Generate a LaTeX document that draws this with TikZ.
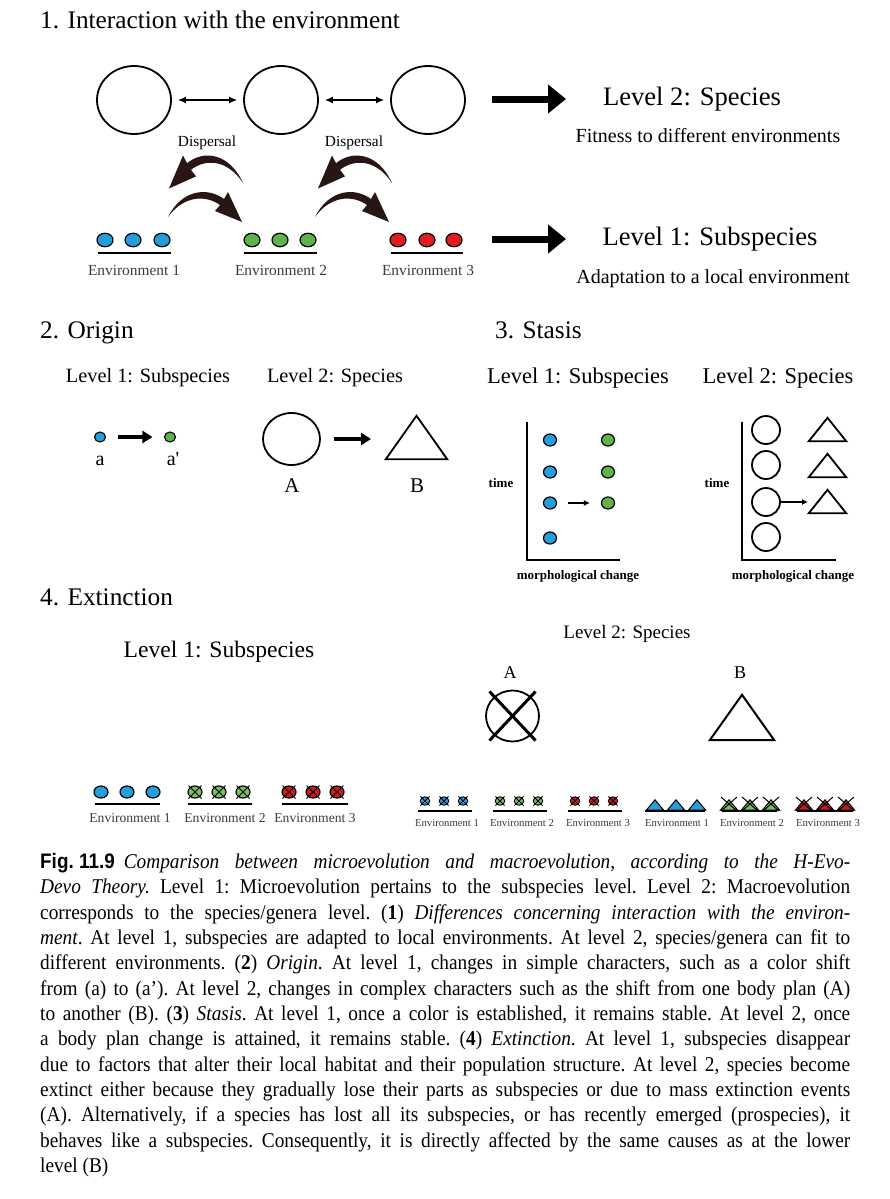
\documentclass[tikz,border=0pt]{standalone}
\usepackage{fontspec}
\setmainfont{Liberation Serif}
\newfontfamily\capfont{Liberation Serif}[FakeStretch=0.92]
\newfontfamily\figfont{Liberation Sans}[FakeStretch=0.9]
\usetikzlibrary{arrows.meta,shapes.geometric}
\definecolor{dblue}{RGB}{38,158,218}
\definecolor{dgreen}{RGB}{96,178,74}
\definecolor{dred}{RGB}{226,30,36}
\definecolor{brushcol}{RGB}{40,22,20}
\definecolor{envgray}{RGB}{60,60,60}
\newcommand{\fs}[1]{\fontsize{#1}{#1}\selectfont}
\newcommand{\xover}[2]{\draw[xline] ([shift={(-#2,-#2)}]#1.center) -- ([shift={(#2,#2)}]#1.center) ([shift={(-#2,#2)}]#1.center) -- ([shift={(#2,-#2)}]#1.center);}
\tikzset{
  bigc/.style={draw, ellipse, line width=1.8pt, minimum width=74pt, minimum height=68pt, inner sep=0pt},
  dotA/.style={draw, ellipse, line width=1.2pt, fill=#1, minimum width=16pt, minimum height=13.5pt, inner sep=0pt},
  dotB/.style={draw, ellipse, line width=1.1pt, fill=#1, minimum width=11pt, minimum height=10pt, inner sep=0pt},
  dotC/.style={draw, ellipse, line width=1.2pt, fill=#1, minimum width=13pt, minimum height=12pt, inner sep=0pt},
  dotD/.style={draw, ellipse, line width=1.2pt, fill=#1, minimum width=14pt, minimum height=12pt, inner sep=0pt},
  dotE/.style={draw, ellipse, line width=0.9pt, fill=#1, minimum width=9.5pt, minimum height=8.5pt, inner sep=0pt},
  xline/.style={line width=1pt},
  envline/.style={line width=1.8pt},
  envlab/.style={anchor=base, text=envgray, inner sep=0pt},
  lab/.style={anchor=base, inner sep=0pt},
  title/.style={anchor=base west, inner sep=0pt, font=\fs{25.3}},
  dbl/.style={line width=1.3pt, {Latex[length=8pt,width=7pt]}-{Latex[length=8pt,width=7pt]}, shorten <=6pt, shorten >=6pt},
  fat/.style={line width=7pt, -{Triangle[length=18pt,width=28pt]}},
  mid/.style={line width=3.3pt, -{Triangle[length=10pt,width=12pt]}},
  thin/.style={line width=1.5pt, -{Latex[length=6pt,width=6pt]}},
  brusharrow/.pic={\fill[brushcol] (0,0) .. controls (14,-28) and (40,-30) .. (56,-18) -- (60,-25) -- (74,5) -- (47,-6) -- (52,-12) .. controls (38,-22) and (16,-22) .. (0,0) -- cycle;}
}
\begin{document}
\begin{tikzpicture}[x=1pt,y=-1pt]
\useasboundingbox (0,0) rectangle (890,1199);
\fill[white] (0,0) rectangle (890,1199);

% ---------------- Section 1
\node[title] (t1) at (40,29) {1. Interaction with the environment};
\node[bigc] (s1) at (134,100) {};
\node[bigc] (s2) at (281,100) {};
\node[bigc] (s3) at (428,100) {};
\draw[dbl] (s1) -- (s2);
\draw[dbl] (s2) -- (s3);
\node[lab, font=\fs{15.4}] (d1) at (207,146) {Dispersal};
\node[lab, font=\fs{15.4}] (d2) at (354,146) {Dispersal};
\pic at (168,217) {brusharrow};
\pic at (315,217) {brusharrow};
\pic[xscale=-1, yscale=1.1] at (243,183) {brusharrow};
\pic[xscale=-1, yscale=1.1] at (392,183) {brusharrow};
\node[dotA=dblue] (e1a) at (105,240) {};
\node[dotA=dblue] (e1b) at (133,240) {};
\node[dotA=dblue] (e1c) at (162,240) {};
\node[dotA=dgreen] (e2a) at (252,240) {};
\node[dotA=dgreen] (e2b) at (280,240) {};
\node[dotA=dgreen] (e2c) at (308,240) {};
\node[dotA=dred] (e3a) at (398,240) {};
\node[dotA=dred] (e3b) at (427,240) {};
\node[dotA=dred] (e3c) at (454,240) {};
\draw[envline] (98,253) -- (171,253);
\draw[envline] (244,253) -- (317,253);
\draw[envline] (391,253) -- (463,253);
\node[envlab, font=\fs{15.4}] (l1) at (134,275) {Environment 1};
\node[envlab, font=\fs{15.4}] (l2) at (281,275) {Environment 2};
\node[envlab, font=\fs{15.4}] (l3) at (428,275) {Environment 3};
\coordinate (f1s) at (492,99); \coordinate (f1e) at (566,99);
\coordinate (f2s) at (492,239); \coordinate (f2e) at (566,239);
\draw[fat] (f1s) -- (f1e);
\draw[fat] (f2s) -- (f2e);
\node[lab, font=\fs{26.6}] (lv2) at (692,105) {Level 2: Species};
\node[lab, font=\fs{20}] (fit) at (708,142) {Fitness to different environments};
\node[lab, font=\fs{26.6}] (lv1) at (710,245) {Level 1: Subspecies};
\node[lab, font=\fs{20}] (ada) at (713,283) {Adaptation to a local environment};

% ---------------- Section 2
\node[title] (t2) at (40,338) {2. Origin};
\node[lab, font=\fs{20.3}] (o1) at (148,382) {Level 1: Subspecies};
\node[lab, font=\fs{20.3}] (o2) at (335,382) {Level 2: Species};
\node[dotB=dblue] (oa) at (100,437) {};
\node[dotB=dgreen] (ob) at (170,437) {};
\draw[mid, shorten <=11.5pt, shorten >=11.5pt] (oa) -- (ob);
\node[lab, font=\fs{20}] (la) at (100,465) {a};
\node[lab, font=\fs{20}] (lb) at (173,465) {a\textquotesingle};
\node[draw, ellipse, line width=1.8pt, minimum width=57pt, minimum height=52pt, inner sep=0pt] (oA) at (291.5,439) {};
\node[inner sep=0pt, minimum width=61pt, minimum height=43pt] (oB) at (416.5,437.5) {};
\draw[line width=1.8pt, line join=miter] (oB.south west) -- (oB.north) -- (oB.south east) -- cycle;
\coordinate (oAB) at (371,439);
\draw[mid, shorten <=13pt] (oA.east) -- (oAB);
\node[lab, font=\fs{21}] (lA) at (292,492) {A};
\node[lab, font=\fs{21}] (lB) at (417,492) {B};

% ---------------- Section 3
\node[title] (t3) at (495,338) {3. Stasis};
\node[lab, font=\fs{22.5}] (p1) at (578,383) {Level 1: Subspecies};
\node[lab, font=\fs{22.5}] (p2) at (778,383) {Level 2: Species};
\draw[line width=2pt] (527,422) -- (527,560) -- (620,560);
\draw[line width=2pt] (742,422) -- (742,560) -- (836,560);
\node[lab, font=\bfseries\fs{13}] (tm1) at (501,487) {time};
\node[lab, font=\bfseries\fs{13}] (tm2) at (717,487) {time};
\node[lab, font=\bfseries\fs{13}] (mc1) at (578,579) {morphological change};
\node[lab, font=\bfseries\fs{13}] (mc2) at (793,579) {morphological change};
\node[dotC=dblue] (b1) at (550,440) {};
\node[dotC=dblue] (b2) at (550,472) {};
\node[dotC=dblue] (b3) at (550,503) {};
\node[dotC=dblue] (b4) at (550,538) {};
\node[dotC=dgreen] (g1) at (608,440) {};
\node[dotC=dgreen] (g2) at (608,472) {};
\node[dotC=dgreen] (g3) at (608,503) {};
\draw[thin, shorten <=11pt, shorten >=11pt] (b3) -- (g3);
\node[draw, circle, line width=1.8pt, minimum size=28pt, inner sep=0pt] (c1) at (766,430) {};
\node[draw, circle, line width=1.8pt, minimum size=28pt, inner sep=0pt] (c2) at (766,465) {};
\node[draw, circle, line width=1.8pt, minimum size=28pt, inner sep=0pt] (c3) at (766,502) {};
\node[draw, circle, line width=1.8pt, minimum size=28pt, inner sep=0pt] (c4) at (766,537) {};
\foreach \n/\yy in {tr1/429.5, tr2/465.5, tr3/501.5} {
  \node[inner sep=0pt, minimum width=37pt, minimum height=23pt] (\n) at (827.5,\yy) {};
  \draw[line width=1.8pt] (\n.south west) -- (\n.north) -- (\n.south east) -- cycle;
}
\coordinate (c3t) at (808,502);
\draw[thin] (c3.east) -- (c3t);

% ---------------- Section 4
\node[title] (t4) at (40,605) {4. Extinction};
\node[lab, font=\fs{23.6}] (x1) at (219,657) {Level 1: Subspecies};
\node[dotD=dblue] (q1) at (101,792) {};
\node[dotD=dblue] (q2) at (127,792) {};
\node[dotD=dblue] (q3) at (153,792) {};
\foreach \n/\xx in {q4/195, q5/219, q6/243} {
  \node[dotD=dgreen!85!white] (\n) at (\xx,792) {};
  \xover{\n}{6.5}
}
\foreach \n/\xx in {q7/289, q8/313, q9/337} {
  \node[dotD=dred!90!black] (\n) at (\xx,792) {};
  \xover{\n}{6.5}
}
\draw[envline] (95,804) -- (160,804);
\draw[envline] (188,804) -- (252,804);
\draw[envline] (282,804) -- (348,804);
\node[envlab, font=\fs{13.6}] (m1) at (130,822) {Environment 1};
\node[envlab, font=\fs{13.6}] (m2) at (225,822) {Environment 2};
\node[envlab, font=\fs{13.6}] (m3) at (315,822) {Environment 3};

\node[lab, font=\fs{19}] (x2) at (627,638) {Level 2: Species};
\node[lab, font=\fs{18}] (xA) at (510,678) {A};
\node[lab, font=\fs{18}] (xB) at (740,678) {B};
\node[draw, ellipse, line width=1.8pt, minimum width=53pt, minimum height=51pt, inner sep=0pt] (eA) at (512.5,716) {};
\draw[line width=3pt] ([shift={(-23,-24.5)}]eA.center) -- ([shift={(23,24.5)}]eA.center)
                      ([shift={(23,-24.5)}]eA.center) -- ([shift={(-23,24.5)}]eA.center);
\node[inner sep=0pt, minimum width=64pt, minimum height=45pt] (eB) at (742,717.5) {};
\draw[line width=2pt] (eB.south west) -- (eB.north) -- (eB.south east) -- cycle;

\foreach \n/\xx in {r1/425, r2/444, r3/463} {
  \node[dotE=dblue] (\n) at (\xx,801) {};
  \xover{\n}{4.6}
}
\foreach \n/\xx in {r4/500, r5/519, r6/538} {
  \node[dotE=dgreen!85!white] (\n) at (\xx,801) {};
  \xover{\n}{4.6}
}
\foreach \n/\xx in {r7/575, r8/594, r9/613} {
  \node[dotE=dred!90!black] (\n) at (\xx,801) {};
  \xover{\n}{4.6}
}
\foreach \n/\xx in {u1/655, u2/676, u3/697} {
  \node[inner sep=0pt, minimum width=17pt, minimum height=10pt] (\n) at (\xx,805) {};
  \filldraw[fill=dblue, line width=1pt] (\n.south west) -- (\n.north) -- (\n.south east) -- cycle;
}
\foreach \n/\xx in {u4/729, u5/750, u6/771} {
  \node[inner sep=0pt, minimum width=17pt, minimum height=10pt] (\n) at (\xx,805) {};
  \filldraw[fill=dgreen!85!white, line width=1pt] (\n.south west) -- (\n.north) -- (\n.south east) -- cycle;
  \draw[xline] ([shift={(-8,-8)}]\n.center) -- ([shift={(8,6)}]\n.center) ([shift={(8,-8)}]\n.center) -- ([shift={(-8,6)}]\n.center);
}
\foreach \n/\xx in {u7/804, u8/825, u9/846} {
  \node[inner sep=0pt, minimum width=17pt, minimum height=10pt] (\n) at (\xx,805) {};
  \filldraw[fill=dred!90!black, line width=1pt] (\n.south west) -- (\n.north) -- (\n.south east) -- cycle;
  \draw[xline] ([shift={(-8,-8)}]\n.center) -- ([shift={(8,6)}]\n.center) ([shift={(8,-8)}]\n.center) -- ([shift={(-8,6)}]\n.center);
}
\draw[envline] (418,811) -- (472,811);
\draw[envline] (493,811) -- (547,811);
\draw[envline] (568,811) -- (622,811);
\draw[envline] (645,811) -- (705,811);
\draw[envline] (722,811) -- (777,811);
\draw[envline] (797,811) -- (853,811);
\node[envlab, font=\fs{10.7}] (n1) at (447,826) {Environment 1};
\node[envlab, font=\fs{10.7}] (n2) at (522,826) {Environment 2};
\node[envlab, font=\fs{10.7}] (n3) at (598,826) {Environment 3};
\node[envlab, font=\fs{10.7}] (n4) at (677,826) {Environment 1};
\node[envlab, font=\fs{10.7}] (n5) at (752,826) {Environment 2};
\node[envlab, font=\fs{10.7}] (n6) at (828,826) {Environment 3};

% ---------------- Caption
\node[anchor=north west, inner sep=0pt, text width=810pt, align=justify,
      font=\capfont\fontsize{21}{25.33}\selectfont] (cap) at (40,853) {\hyphenpenalty=10000\exhyphenpenalty=10000\frenchspacing
\mbox{\figfont\bfseries Fig.\ 11.9}\hspace{9pt}\textit{Comparison between microevolution and macroevolution, according to the H-Evo-}\linebreak
\textit{Devo Theory.} Level 1: Microevolution pertains to the subspecies level. Level 2: Macroevolution\linebreak
corresponds to the species/genera level. (\textbf{1}) \textit{Differences concerning interaction with the environ-}\linebreak
\textit{ment}. At level 1, subspecies are adapted to local environments. At level 2, species/genera can fit to\linebreak
different environments. (\textbf{2}) \textit{Origin}. At level 1, changes in simple characters, such as a color shift\linebreak
from (a) to (a’). At level 2, changes in complex characters such as the shift from one body plan (A)\linebreak
to another (B). (\textbf{3}) \textit{Stasis}. At level 1, once a color is established, it remains stable. At level 2, once\linebreak
a body plan change is attained, it remains stable. (\textbf{4}) \textit{Extinction}. At level 1, subspecies disappear\linebreak
due to factors that alter their local habitat and their population structure. At level 2, species become\linebreak
extinct either because they gradually lose their parts as subspecies or due to mass extinction events\linebreak
(A). Alternatively, if a species has lost all its subspecies, or has recently emerged (prospecies), it\linebreak
behaves like a subspecies. Consequently, it is directly affected by the same causes as at the lower\linebreak
level (B)};
\end{tikzpicture}
\end{document}
